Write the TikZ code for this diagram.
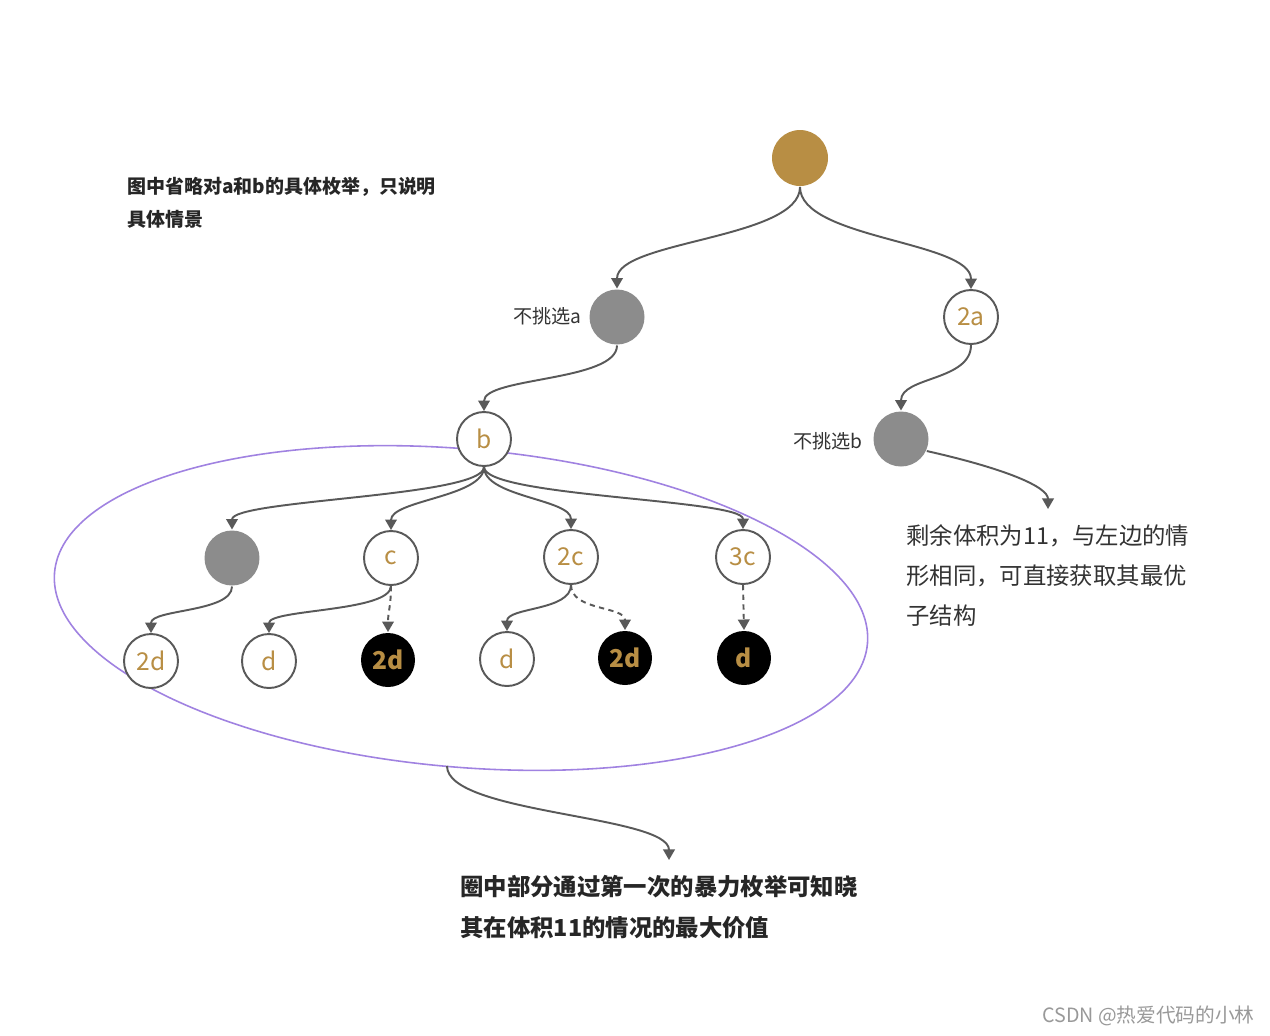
\documentclass[tikz,border=0pt]{standalone}
\usepackage{fontspec}
\newfontfamily\cjk{Noto Sans CJK SC}
\usetikzlibrary{arrows.meta,calc}
\definecolor{gold}{HTML}{B88E44}
\definecolor{grayfill}{HTML}{8C8C8C}
\definecolor{linegray}{HTML}{595959}
\definecolor{txt}{HTML}{333333}
\definecolor{ellcol}{RGB}{160,130,225}
\begin{document}
\begin{tikzpicture}[x=0.02cm,y=-0.02cm,
  nd/.style={circle,minimum size=1.08cm,inner sep=0pt,line width=1.1pt,font=\cjk\fontsize{14pt}{16pt}\selectfont},
  hollow/.style={nd,draw=linegray,fill=white,text=gold},
  grayn/.style={nd,fill=grayfill},
  blackn/.style={nd,fill=black,text=gold,font=\cjk\bfseries\fontsize{14pt}{16pt}\selectfont},
  conn/.style={draw=linegray,line width=1.1pt,-{Triangle[width=6.6pt,length=6pt]}},
  dconn/.style={conn,dash pattern=on 3pt off 2.5pt},
  lab/.style={font=\cjk\fontsize{10.9pt}{13pt}\selectfont,text=txt,inner sep=0pt},
  big/.style={font=\cjk\fontsize{13.3pt}{16pt}\selectfont,text=txt,inner sep=0pt},
  bigb/.style={font=\cjk\bfseries\fontsize{13.3pt}{16pt}\selectfont,text=black!85,inner sep=0pt},
  smallb/.style={font=\cjk\bfseries\fontsize{10.8pt}{13pt}\selectfont,text=black!85,inner sep=0pt}
]
\useasboundingbox (0,0) rectangle (1270,1035);
\fill[white] (0,0) rectangle (1270,1035);

% ellipse
\draw[ellcol,line width=0.9pt,rotate around={-5:(461,608)}] (461,608) ellipse [x radius=408, y radius=159];
\coordinate (ebot) at (447,766);
\coordinate (ebotend) at (669,860);
\coordinate (nbend) at (1048,509);

% nodes
\node[nd,fill=gold,minimum size=1.12cm] (root) at (800,158) {};
\node[grayn,minimum size=1.1cm] (na) at (617,317) {};
\node[hollow] (a2) at (971,317) {2a};
\node[hollow] (b) at (484,439) {b};
\node[grayn,minimum size=1.1cm] (nb) at (901,439) {};
\node[grayn,minimum size=1.1cm] (g) at (232,558) {};
\node[hollow] (c) at (391,558) {c};
\node[hollow] (c2) at (571,557) {2c};
\node[hollow] (c3) at (743,557) {3c};
\node[hollow] (d2a) at (151,661) {2d};
\node[hollow] (da) at (269,661) {d};
\node[blackn] (d2b) at (388,660) {2d};
\node[hollow] (db) at (507,659) {d};
\node[blackn] (d2c) at (625,658) {2d};
\node[blackn] (dc) at (744,658) {d};

% labels
\node[lab,anchor=base east] (la) at (582,323) {不挑选a};
\node[lab,anchor=base east] (lb) at (863,448) {不挑选b};
\node[smallb,anchor=base west] (t1) at (127,193) {图中省略对a和b的具体枚举，只说明};
\node[smallb,anchor=base west] (t2) at (127,226) {具体情景};
\node[big,anchor=base west] (r1) at (906,544) {剩余体积为11，与左边的情};
\node[big,anchor=base west] (r2) at (906,584) {形相同，可直接获取其最优};
\node[big,anchor=base west] (r3) at (906,624) {子结构};
\node[bigb,anchor=base west] (b1) at (460,895) {圈中部分通过第一次的暴力枚举可知晓};
\node[bigb,anchor=base west] (b2) at (460,936) {其在体积11的情况的最大价值};
\node[font=\cjk\fontsize{11.2pt}{13pt}\selectfont,text=black!40,anchor=base east,inner sep=0pt] (wm) at (1255,1022) {CSDN @热爱代码的小林};

% connectors
\draw[conn] (root.south) .. controls +(0,52) and +(0,-48) .. (na.north);
\draw[conn] (root.south) .. controls +(0,52) and +(0,-48) .. (a2.north);
\draw[conn] (na.south) .. controls +(0,36) and +(0,-34) .. (b.north);
\draw[conn] (a2.south) .. controls +(0,36) and +(0,-34) .. (nb.north);
\draw[conn] (nb.-25) .. controls +(80,18) and +(0,-22) .. (nbend);
\draw[conn] (b.south) .. controls +(0,30) and +(0,-30) .. (g.north);
\draw[conn] (b.south) .. controls +(0,30) and +(0,-30) .. (c.north);
\draw[conn] (b.south) .. controls +(0,30) and +(0,-30) .. (c2.north);
\draw[conn] (b.south) .. controls +(0,30) and +(0,-30) .. (c3.north);
\draw[conn] (g.south) .. controls +(0,26) and +(0,-24) .. (d2a.north);
\draw[conn] (c.south) .. controls +(0,26) and +(0,-24) .. (da.north);
\draw[dconn] (c.south) .. controls +(0,20) and +(0,-20) .. (d2b.north);
\draw[conn] (c2.south) .. controls +(0,26) and +(0,-24) .. (db.north);
\draw[dconn] (c2.south) .. controls +(0,26) and +(0,-24) .. (d2c.north);
\draw[dconn] (c3.south) -- (dc.north);
\draw[conn] (ebot) .. controls +(0,48) and +(0,-45) .. (ebotend);
\end{tikzpicture}
\end{document}
